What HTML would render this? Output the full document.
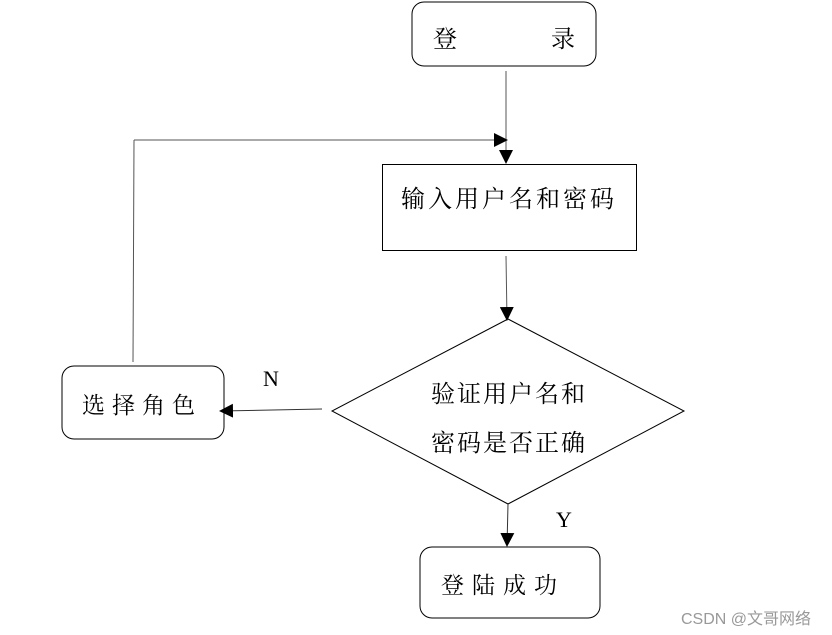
<!DOCTYPE html>
<html><head><meta charset="utf-8"><style>
html,body{margin:0;padding:0;background:#fff;}
svg{display:block;}
text{font-family:"Liberation Serif","Noto Serif CJK SC","Noto Sans CJK SC",serif;fill:#000;}
</style></head><body>
<svg width="832" height="635" viewBox="0 0 832 635" xmlns="http://www.w3.org/2000/svg">
<defs><marker id="a" markerWidth="14" markerHeight="14" refX="13" refY="7" orient="auto" markerUnits="userSpaceOnUse"><path d="M0,0 L14,7 L0,14 z" fill="#000"/></marker></defs>
<g fill="none" stroke="#000" stroke-width="1">
<rect x="412" y="2" width="184" height="64" rx="12"/>
<rect x="382.5" y="164.5" width="254" height="86"/>
<polygon points="508,319 684,411 508,504 332,411"/>
<rect x="62" y="366" width="162" height="73" rx="12"/>
<rect x="420" y="547" width="180" height="71" rx="12"/>
<line x1="506" y1="71" x2="506" y2="163" stroke="#555" marker-end="url(#a)"/>
<line x1="134" y1="140" x2="507" y2="140" stroke="#555" marker-end="url(#a)"/>
<line x1="134" y1="140" x2="133" y2="362" stroke="#555"/>
<line x1="506" y1="256" x2="507" y2="320" stroke="#555" marker-end="url(#a)"/>
<line x1="322" y1="409" x2="220" y2="411" stroke="#333" marker-end="url(#a)"/>
<line x1="508" y1="504" x2="507" y2="546" stroke="#333" marker-end="url(#a)"/>
</g>
<text x="433" y="47" font-size="24">登</text>
<text x="551" y="47" font-size="24">录</text>
<text x="401" y="207" font-size="24" letter-spacing="3">输入用户名和密码</text>
<text x="431" y="402" font-size="24" letter-spacing="2">验证用户名和</text>
<text x="431" y="451" font-size="24" letter-spacing="2">密码是否正确</text>
<text x="82" y="413" font-size="23" letter-spacing="7">选择角色</text>
<text x="441" y="593" font-size="23" letter-spacing="8">登陆成功</text>
<text x="263" y="386" font-size="22">N</text>
<text x="556" y="527" font-size="22">Y</text>
<text x="681" y="624" font-size="16" style="font-family:'Liberation Sans','Noto Sans CJK SC',sans-serif;fill:#999">CSDN @文哥网络</text>
</svg>
</body></html>
